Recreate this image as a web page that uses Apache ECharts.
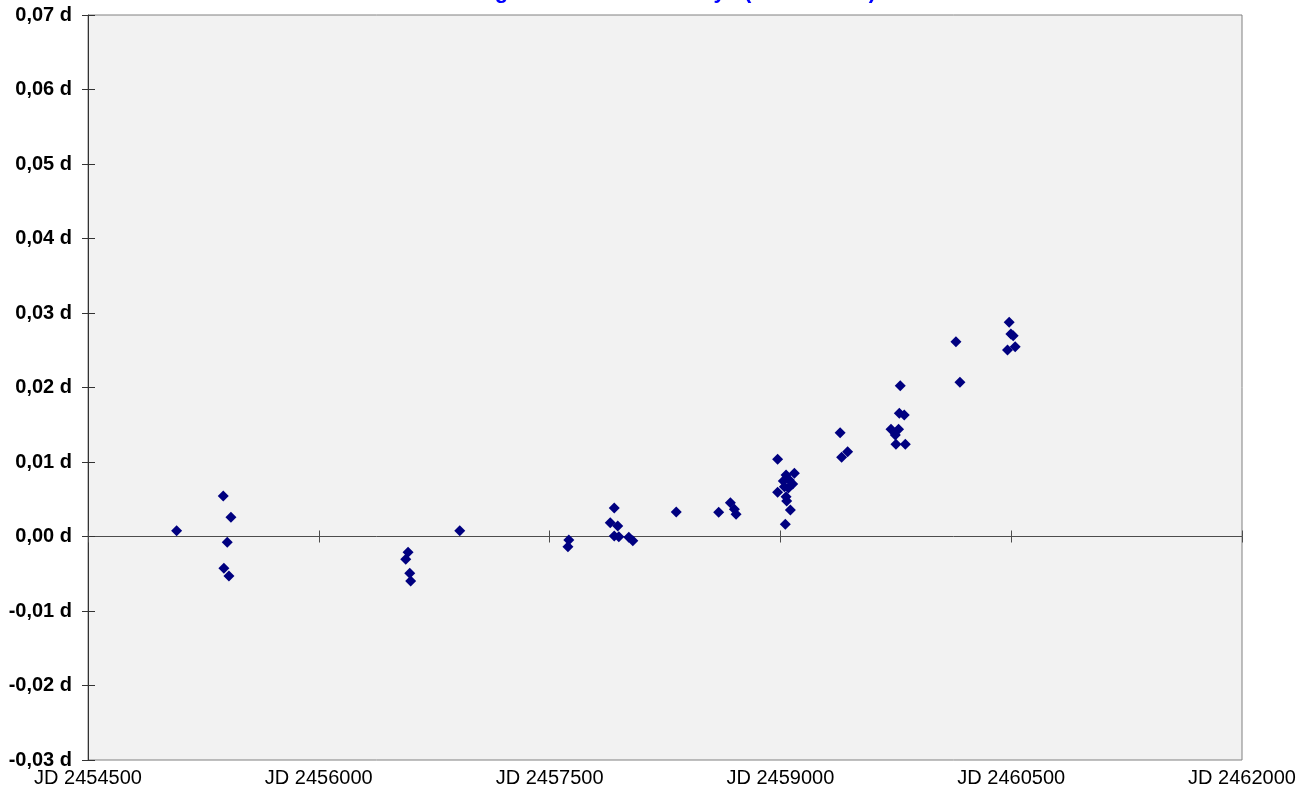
<!DOCTYPE html>
<html>
<head>
<meta charset="utf-8">
<script src="https://cdn.jsdelivr.net/npm/echarts@6/dist/echarts.min.js"></script>
<style>
html,body{margin:0;padding:0;background:#fff;}
#c{width:1312px;height:798px;}
</style>
</head>
<body>
<div id="c"></div>
<script>
// Julian dates of the minima
const jd = [
  2455076, 2455379, 2455429, 2455405, 2455383, 2455416,
  2456580, 2456565, 2456591, 2456597, 2456916,
  2457625, 2457619, 2457920, 2457894, 2457943, 2457920, 2457950, 2458015, 2458041, 2458323,
  2458599, 2458675, 2458701, 2458712,
  2458982, 2459037, 2459091, 2459058, 2459080, 2459026, 2458982, 2459037, 2459041, 2459065, 2459032, 2459019, 2459052,
  2459388, 2459437, 2459398,
  2459773, 2459805, 2459719, 2459768, 2459747, 2459751, 2459812, 2459779,
  2460141, 2460167,
  2460487, 2460498, 2460513, 2460476, 2460526
];
// O-C values in days
const oc = [
  0.00078, 0.00544, 0.00258, -0.00078, -0.00427, -0.0053,
  -0.00212, -0.00306, -0.00494, -0.00597, 0.00078,
  -0.00047, -0.00137, 0.00383, 0.00185, 0.00141, 0.00007, -0.00003, -0.0001, -0.00056, 0.00329,
  0.00325, 0.00454, 0.00365, 0.00298,
  0.01036, 0.00826, 0.00848, 0.00758, 0.00705, 0.00668, 0.00593, 0.00534, 0.00477, 0.00356, 0.00164, 0.00745, 0.00651,
  0.01393, 0.01138, 0.01063,
  0.01654, 0.01631, 0.01439, 0.01439, 0.01362, 0.01238, 0.01238, 0.02024,
  0.02615, 0.0207,
  0.02875, 0.02718, 0.02695, 0.02503, 0.02548
];
// axis ranges / ticks
const xStart = 2454500;
const xEnd = 2462000;
const xStep = 1500;
const yMin = -0.03;
const yMax = 0.07;
const yStep = 0.01;
const titleText = 'O-C Diagram: RZ Cas Primary   (2008 - 2024)';

const chart = echarts.init(document.getElementById('c'), null, {renderer: 'canvas'});
const FONT = '"Liberation Sans", Arial, sans-serif';
const xFmt = v => 'JD ' + Math.round(v + xStart);
const yFmt = v => v.toFixed(2).replace('.', ',').replace('-0,00', '0,00') + ' d';

const xCommon = {
  type: 'value', min: 0, max: xEnd - xStart, interval: xStep,
  splitLine: {show: false}
};
const yCommon = {
  type: 'value', min: yMin, max: yMax, interval: yStep,
  splitLine: {show: false}
};

chart.setOption({
  backgroundColor: '#ffffff',
  animation: false,
  graphic: [{
    type: 'text', x: 414, y: -19, silent: true,
    style: {text: titleText, fill: '#0000ff', font: 'bold 22px ' + FONT, verticalAlign: 'top', align: 'left'}
  }],
  grid: {
    left: 88, right: 70, top: 15, bottom: 38,
    show: true, backgroundColor: '#f2f2f2', borderColor: '#808080', borderWidth: 1,
    containLabel: false
  },
  xAxis: [
    Object.assign({}, xCommon, {
      position: 'bottom',
      axisLine: {onZero: true, show: true, lineStyle: {color: '#4d4d4d', width: 1}},
      axisTick: {show: true, inside: false, length: 6, lineStyle: {color: '#4d4d4d'}},
      axisLabel: {show: false}
    }),
    Object.assign({}, xCommon, {
      position: 'bottom',
      axisLine: {onZero: true, show: false},
      axisTick: {show: true, inside: true, length: 6, lineStyle: {color: '#4d4d4d'}},
      axisLabel: {show: false}
    }),
    Object.assign({}, xCommon, {
      position: 'bottom',
      axisLine: {onZero: false, show: false},
      axisTick: {show: false},
      axisLabel: {show: true, formatter: xFmt, color: '#000', fontFamily: FONT, fontSize: 20, margin: 8}
    })
  ],
  yAxis: [
    Object.assign({}, yCommon, {
      position: 'left',
      axisLine: {show: true, onZero: false, lineStyle: {color: '#333', width: 1}},
      axisTick: {show: true, inside: false, length: 6, lineStyle: {color: '#333'}},
      axisLabel: {show: true, formatter: yFmt, color: '#000', fontFamily: FONT, fontSize: 20, fontWeight: 'bold', margin: 16}
    }),
    Object.assign({}, yCommon, {
      position: 'left',
      axisLine: {show: false, onZero: false},
      axisTick: {show: true, inside: true, length: 7, lineStyle: {color: '#333'}},
      axisLabel: {show: false}
    })
  ],
  series: [{
    type: 'scatter',
    xAxisIndex: 0, yAxisIndex: 0,
    symbol: 'diamond', symbolSize: 11,
    itemStyle: {color: '#000080', opacity: 1},
    data: jd.map((j, i) => [j - xStart, oc[i]])
  }]
});
</script>
</body>
</html>
